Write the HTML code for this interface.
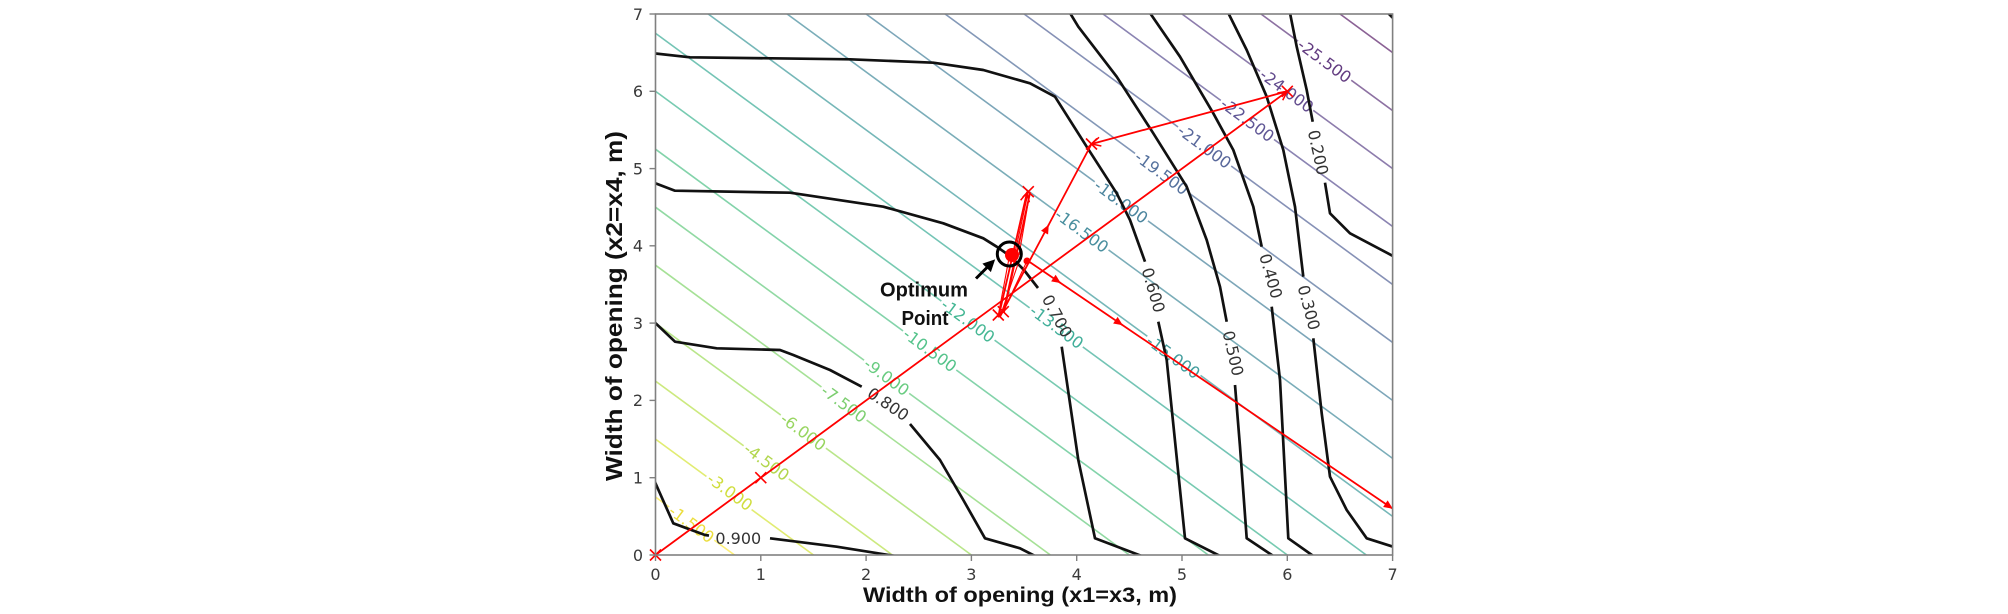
<!DOCTYPE html>
<html><head><meta charset="utf-8"><style>
html,body{margin:0;padding:0;background:#fff;}
svg{display:block;}
.tk{font-family:"DejaVu Sans","Liberation Sans",sans-serif;font-size:16px;fill:#3a3a3a;}
.cl{font-family:"DejaVu Sans","Liberation Sans",sans-serif;font-size:16px;}
.bl{font-family:"DejaVu Sans","Liberation Sans",sans-serif;font-size:16px;fill:#333;}
.ax{font-family:"Liberation Sans",sans-serif;font-weight:bold;fill:#111;}
</style></head><body>
<svg width="2008" height="614" viewBox="0 0 2008 614" xmlns="http://www.w3.org/2000/svg">
<defs>
<clipPath id="pc"><rect x="655.5" y="14" width="737.1" height="541"/></clipPath>
<marker id="mv" viewBox="0 0 10 10" refX="9" refY="5" markerWidth="10" markerHeight="10" markerUnits="userSpaceOnUse" orient="auto" overflow="visible"><path d="M0,0.5 L9,5 L0,9.5" fill="none" stroke="#ff0000" stroke-width="1.5"/></marker>
<marker id="mt" viewBox="0 0 9 8" refX="8" refY="4" markerWidth="9" markerHeight="8" markerUnits="userSpaceOnUse" orient="auto" overflow="visible"><path d="M0,0 L9,4 L0,8 z" fill="#ff0000"/></marker>
<marker id="mb" viewBox="0 0 12 12" refX="9" refY="6" markerWidth="12" markerHeight="12" markerUnits="userSpaceOnUse" orient="auto" overflow="visible"><path d="M0,0 L12,6 L0,12 z" fill="#000"/></marker>
</defs>
<rect width="2008" height="614" fill="#fff"/>

<!-- coloured linear contours -->
<g clip-path="url(#pc)" stroke-width="1.6" opacity="0.62" fill="none">
<line x1="655.5" y1="497.0" x2="734.5" y2="555" stroke="#fde725"/>
<line x1="655.5" y1="439.1" x2="813.5" y2="555" stroke="#d0e11c"/>
<line x1="655.5" y1="381.1" x2="892.4" y2="555" stroke="#addc30"/>
<line x1="655.5" y1="323.1" x2="971.4" y2="555" stroke="#8fd744"/>
<line x1="655.5" y1="265.2" x2="1050.4" y2="555" stroke="#70cf57"/>
<line x1="655.5" y1="207.2" x2="1129.4" y2="555" stroke="#4ec36b"/>
<line x1="655.5" y1="149.2" x2="1208.3" y2="555" stroke="#38b977"/>
<line x1="655.5" y1="91.3" x2="1287.3" y2="555" stroke="#25ab82"/>
<line x1="655.5" y1="33.3" x2="1366.3" y2="555" stroke="#1fa188"/>
<line x1="708.2" y1="14" x2="1392.6" y2="516.4" stroke="#228c8d"/>
<line x1="787.1" y1="14" x2="1392.6" y2="458.4" stroke="#297b8e"/>
<line x1="866.1" y1="14" x2="1392.6" y2="400.4" stroke="#2d708e"/>
<line x1="945.1" y1="14" x2="1392.6" y2="342.5" stroke="#38598c"/>
<line x1="1024.1" y1="14" x2="1392.6" y2="284.5" stroke="#3d4e8a"/>
<line x1="1103.0" y1="14" x2="1392.6" y2="226.5" stroke="#443983"/>
<line x1="1182" y1="14" x2="1392.6" y2="168.6" stroke="#472c7a"/>
<line x1="1261" y1="14" x2="1392.6" y2="110.6" stroke="#471a6a"/>
<line x1="1340" y1="14" x2="1392.6" y2="52.6" stroke="#440154"/>
</g>

<!-- coloured labels -->
<g class="cl" text-anchor="middle">
<g transform="translate(691.6,523.8) rotate(36.28)"><rect x="-28" y="-6" width="56" height="12" fill="#fff"/><text dy="0.36em" fill="#e8d81c" opacity="0.85">-1.500</text></g>
<g transform="translate(730,491.7) rotate(36.28)"><rect x="-28" y="-6" width="56" height="12" fill="#fff"/><text dy="0.36em" fill="#c8d81c" opacity="0.85">-3.000</text></g>
<g transform="translate(766.7,461.7) rotate(36.28)"><rect x="-28" y="-6" width="56" height="12" fill="#fff"/><text dy="0.36em" fill="#a5d030" opacity="0.85">-4.500</text></g>
<g transform="translate(803.3,431.7) rotate(36.28)"><rect x="-28" y="-6" width="56" height="12" fill="#fff"/><text dy="0.36em" fill="#86ce44" opacity="0.85">-6.000</text></g>
<g transform="translate(844,403.6) rotate(36.28)"><rect x="-28" y="-6" width="56" height="12" fill="#fff"/><text dy="0.36em" fill="#66c657" opacity="0.85">-7.500</text></g>
<g transform="translate(886.7,376.7) rotate(36.28)"><rect x="-28" y="-6" width="56" height="12" fill="#fff"/><text dy="0.36em" fill="#4ec36b" opacity="0.85">-9.000</text></g>
<g transform="translate(930,350) rotate(36.28)"><rect x="-33" y="-6" width="66" height="12" fill="#fff"/><text dy="0.36em" fill="#38b977" opacity="0.85">-10.500</text></g>
<g transform="translate(968,320.6) rotate(36.28)"><rect x="-33" y="-6" width="66" height="12" fill="#fff"/><text dy="0.36em" fill="#25ab82" opacity="0.85">-12.000</text></g>
<g transform="translate(1056.7,326.7) rotate(36.28)"><rect x="-33" y="-6" width="66" height="12" fill="#fff"/><text dy="0.36em" fill="#1fa188" opacity="0.85">-13.500</text></g>
<g transform="translate(1173.3,356.7) rotate(36.28)"><rect x="-33" y="-6" width="66" height="12" fill="#fff"/><text dy="0.36em" fill="#228c8d" opacity="0.85">-15.000</text></g>
<g transform="translate(1081.8,230.6) rotate(36.28)"><rect x="-33" y="-6" width="66" height="12" fill="#fff"/><text dy="0.36em" fill="#297b8e" opacity="0.85">-16.500</text></g>
<g transform="translate(1121.2,201.5) rotate(36.28)"><rect x="-33" y="-6" width="66" height="12" fill="#fff"/><text dy="0.36em" fill="#2d708e" opacity="0.85">-18.000</text></g>
<g transform="translate(1161.7,172.9) rotate(36.28)"><rect x="-33" y="-6" width="66" height="12" fill="#fff"/><text dy="0.36em" fill="#38598c" opacity="0.85">-19.500</text></g>
<g transform="translate(1204.6,146.5) rotate(36.28)"><rect x="-33" y="-6" width="66" height="12" fill="#fff"/><text dy="0.36em" fill="#3d4e8a" opacity="0.85">-21.000</text></g>
<g transform="translate(1247.5,119.8) rotate(36.28)"><rect x="-33" y="-6" width="66" height="12" fill="#fff"/><text dy="0.36em" fill="#443983" opacity="0.85">-22.500</text></g>
<g transform="translate(1286.8,90.6) rotate(36.28)"><rect x="-33" y="-6" width="66" height="12" fill="#fff"/><text dy="0.36em" fill="#472c7a" opacity="0.85">-24.000</text></g>
<g transform="translate(1324.6,60.8) rotate(36.28)"><rect x="-33" y="-6" width="66" height="12" fill="#fff"/><text dy="0.36em" fill="#471a6a" opacity="0.85">-25.500</text></g>
</g>

<!-- black contours -->
<g fill="none" stroke="#111" stroke-width="2.7" stroke-linejoin="round" clip-path="url(#pc)">
<polyline points="654,480 673.3,523.3 705,535 709,535.6"/>
<polyline points="770,538.3 836.7,546.7 895,556"/>
<polyline points="654,321.7 675,341.7 716.7,348.3 780,350 793.3,355 830,370 861.7,386.7"/>
<polyline points="910,424 940,460 963.3,500 985,538.3 1020,548.3 1035,556"/>
<polyline points="654,182.7 675,190.7 790,192.7 883.3,206.7 943.3,223.3 983.3,238.3 996.7,246.7 1010,256 1024,270 1038,288"/>
<polyline points="1061.7,346.7 1078.3,460 1095,538.3 1141.7,556"/>
<polyline points="654,53.3 690,57.3 850,59.3 933.3,62.7 983.3,70 1030,83.3 1055,96.7 1086.7,146.7 1116.7,193.3 1130,220 1145,261.7"/>
<polyline points="1158.3,321.7 1166.7,360 1185,538.3 1220,556"/>
<polyline points="1070,13 1078.3,26.7 1116.7,76.7 1153.3,133.3 1186.7,186.7 1206.7,240 1220,286.7 1226.7,321.7"/>
<polyline points="1235,385 1240,446.7 1246.7,538.3 1273.3,556"/>
<polyline points="1150,13 1180,56.7 1213.3,113.3 1233.3,150 1253.3,206.7 1261.7,246.7"/>
<polyline points="1271.7,306.7 1280,380 1288.3,538.3 1313.3,556"/>
<polyline points="1228.3,13 1246.7,50 1266.7,96.7 1283.3,150 1295,206.7 1303.3,276.7"/>
<polyline points="1313.3,338.3 1321.7,413.3 1330,476.7 1346.7,510 1366.7,538.3 1393,546.7"/>
<polyline points="1290,13 1296.7,46.7 1306.7,90 1312.7,121.7"/>
<polyline points="1325,182.7 1330,213.3 1350,233.3 1393,256"/>
<polyline points="1388,13 1393,18"/>
</g>

<!-- black contour labels -->
<g class="bl" text-anchor="middle">
<text transform="translate(738.3,538.3)" dy="0.36em">0.900</text>
<text transform="translate(888.3,404) rotate(34)" dy="0.36em">0.800</text>
<text transform="translate(1057.3,316) rotate(62)" dy="0.36em">0.700</text>
<text transform="translate(1153.5,290) rotate(73.5)" dy="0.36em">0.600</text>
<text transform="translate(1233.3,353.3) rotate(77)" dy="0.36em">0.500</text>
<text transform="translate(1271,276) rotate(74)" dy="0.36em">0.400</text>
<text transform="translate(1309,307.5) rotate(75)" dy="0.36em">0.300</text>
<text transform="translate(1318.3,152.5) rotate(77.5)" dy="0.36em">0.200</text>
</g>

<!-- red optimisation path -->
<g fill="none" stroke="#ff0000" stroke-width="1.8" stroke-linecap="round">
<line x1="655.5" y1="555" x2="1287.3" y2="91.3" marker-end="url(#mv)"/>
<line x1="1287.3" y1="91.3" x2="1091.5" y2="144" marker-end="url(#mv)"/>
<line x1="1000" y1="316.7" x2="1048.3" y2="225.5" marker-end="url(#mt)"/>
<line x1="1048.3" y1="225.5" x2="1091.5" y2="144"/>
<line x1="999" y1="315" x2="1027" y2="192.5" marker-end="url(#mv)"/>
<line x1="1004" y1="312" x2="1030" y2="193"/>
<line x1="1026.7" y1="260" x2="1060" y2="282.6" marker-end="url(#mt)"/>
<line x1="1060" y1="282.6" x2="1122" y2="324.7" marker-end="url(#mt)"/>
<line x1="1122" y1="324.7" x2="1392" y2="508.2" marker-end="url(#mt)"/>
</g>
<g fill="none" stroke="#ff0000" stroke-width="1.1">
<line x1="998.3" y1="315" x2="1010" y2="253"/>
<line x1="1003.3" y1="311.7" x2="1015" y2="257"/>
<line x1="1001" y1="314" x2="1020" y2="258"/>
<line x1="1003" y1="312" x2="1027" y2="261"/>
<line x1="1028.3" y1="191.7" x2="1015" y2="253"/>
<line x1="1030" y1="192" x2="1019" y2="255"/>
</g>
<circle cx="1012" cy="255" r="7" fill="#ff0000"/>
<circle cx="1027" cy="261" r="3.5" fill="#ff0000"/>
<g fill="none" stroke="#ff0000" stroke-width="1.6">
<path d="M650,549.5 l11,11 M650,560.5 l11,-11"/>
<path d="M755.3,472.2 l11,11 M755.3,483.2 l11,-11"/>
<path d="M992.8,309.5 l11,11 M992.8,320.5 l11,-11"/>
<path d="M997.8,306.2 l11,11 M997.8,317.2 l11,-11"/>
<path d="M1022.8,186.2 l11,11 M1022.8,197.2 l11,-11"/>
<path d="M1281.8,85.8 l11,11 M1281.8,96.8 l11,-11"/>
<path d="M1086,138.5 l11,11 M1086,149.5 l11,-11"/>
</g>

<!-- optimum marker -->
<circle cx="1009.3" cy="254" r="12" fill="none" stroke="#000" stroke-width="3"/>
<line x1="976" y1="278.5" x2="993" y2="261.5" stroke="#000" stroke-width="3" marker-end="url(#mb)"/>
<text class="ax" x="924" y="296.7" text-anchor="middle" font-size="20" textLength="88" lengthAdjust="spacingAndGlyphs">Optimum</text>
<text class="ax" x="925" y="325" text-anchor="middle" font-size="20" textLength="47" lengthAdjust="spacingAndGlyphs">Point</text>

<!-- axes frame -->
<rect x="655.5" y="14" width="737.1" height="541" fill="none" stroke="#808080" stroke-width="1.6"/>
<g stroke="#808080" stroke-width="1.4">
<line x1="649.5" y1="555" x2="655.5" y2="555"/>
<line x1="649.5" y1="477.7" x2="655.5" y2="477.7"/>
<line x1="649.5" y1="400.4" x2="655.5" y2="400.4"/>
<line x1="649.5" y1="323.1" x2="655.5" y2="323.1"/>
<line x1="649.5" y1="245.8" x2="655.5" y2="245.8"/>
<line x1="649.5" y1="168.6" x2="655.5" y2="168.6"/>
<line x1="649.5" y1="91.3" x2="655.5" y2="91.3"/>
<line x1="649.5" y1="14" x2="655.5" y2="14"/>
<line x1="655.5" y1="555" x2="655.5" y2="561"/>
<line x1="760.8" y1="555" x2="760.8" y2="561"/>
<line x1="866.1" y1="555" x2="866.1" y2="561"/>
<line x1="971.4" y1="555" x2="971.4" y2="561"/>
<line x1="1076.7" y1="555" x2="1076.7" y2="561"/>
<line x1="1182" y1="555" x2="1182" y2="561"/>
<line x1="1287.3" y1="555" x2="1287.3" y2="561"/>
<line x1="1392.6" y1="555" x2="1392.6" y2="561"/>
</g>
<g class="tk" text-anchor="end">
<text x="643" y="555" dy="0.36em">0</text>
<text x="643" y="477.7" dy="0.36em">1</text>
<text x="643" y="400.4" dy="0.36em">2</text>
<text x="643" y="323.1" dy="0.36em">3</text>
<text x="643" y="245.8" dy="0.36em">4</text>
<text x="643" y="168.6" dy="0.36em">5</text>
<text x="643" y="91.3" dy="0.36em">6</text>
<text x="643" y="14" dy="0.36em">7</text>
</g>
<g class="tk" text-anchor="middle">
<text x="655.5" y="580">0</text>
<text x="760.8" y="580">1</text>
<text x="866.1" y="580">2</text>
<text x="971.4" y="580">3</text>
<text x="1076.7" y="580">4</text>
<text x="1182" y="580">5</text>
<text x="1287.3" y="580">6</text>
<text x="1392.6" y="580">7</text>
</g>

<!-- axis titles -->
<text class="ax" x="1020" y="602" text-anchor="middle" font-size="21" textLength="314" lengthAdjust="spacingAndGlyphs">Width of opening (x1=x3, m)</text>
<text class="ax" transform="translate(622,306) rotate(-90)" text-anchor="middle" font-size="23" textLength="350" lengthAdjust="spacingAndGlyphs">Width of opening (x2=x4, m)</text>
</svg>
</body></html>
